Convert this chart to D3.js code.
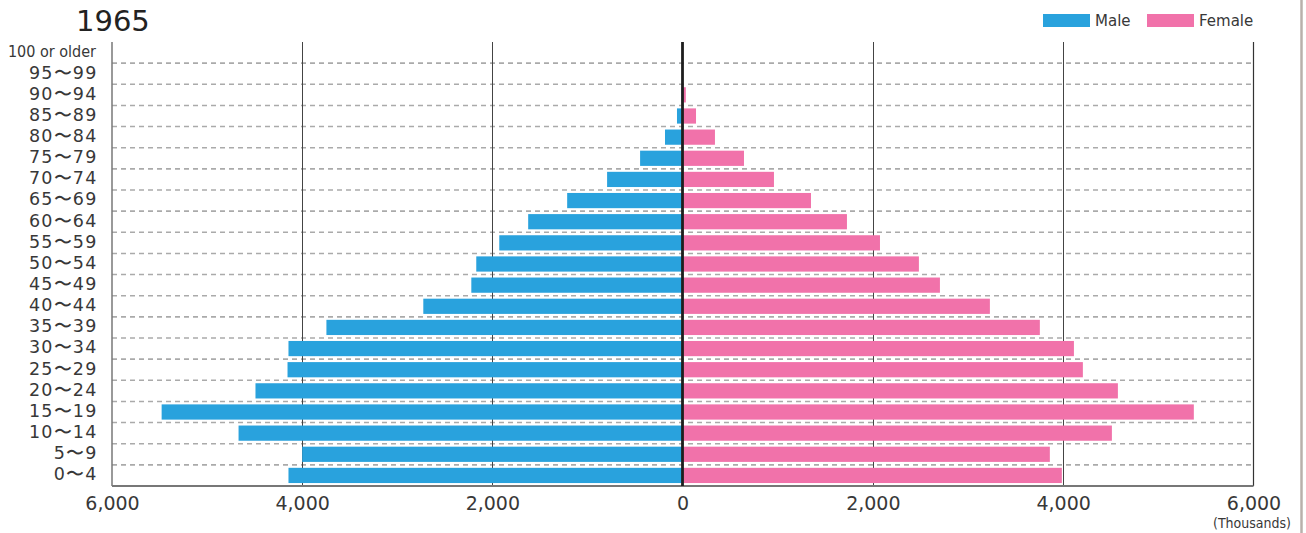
<!DOCTYPE html>
<html>
<head>
<meta charset="utf-8">
<script src="https://cdn.jsdelivr.net/npm/d3@7"></script>
<style>
  html, body { margin: 0; padding: 0; background: #fff; }
  svg { display: block; }
</style>
</head>
<body>
<svg id="chart" width="1306" height="533"></svg>
<script>
// Population by five-year age group, 1965 (thousands)
const year = "1965";
const ageGroups = ["0〜4", "5〜9", "10〜14", "15〜19", "20〜24", "25〜29", "30〜34",
  "35〜39", "40〜44", "45〜49", "50〜54", "55〜59", "60〜64", "65〜69", "70〜74",
  "75〜79", "80〜84", "85〜89", "90〜94", "95〜99", "100 or older"];
const male = [4144, 4000, 4669, 5478, 4491, 4154, 4144, 3745, 2726, 2221, 2169,
  1927, 1623, 1213, 793, 446, 184, 58, 10, 1, 0];
const female = [3986, 3860, 4512, 5373, 4575, 4207, 4113, 3755, 3230, 2705, 2484,
  2075, 1728, 1350, 961, 646, 341, 142, 35, 4, 0];
const tickValues = [0, 2000, 4000, 6000];
const seriesNames = ["Male", "Female"];
const unitLabel = "(Thousands)";

const colors = { Male: "#29a2dd", Female: "#f172aa" };
const font = "'DejaVu Sans', sans-serif";
const condensed = "'DejaVu Sans Condensed', 'DejaVu Sans', sans-serif";
const textColor = "#383838";

const svg = d3.select("#chart");
const plotLeft = 112, plotRight = 1253.5, plotTop = 42, plotBottom = 486, zero = 682.5;

const xMale = d3.scaleLinear().domain([0, 6000]).range([zero, plotLeft]);
const xFemale = d3.scaleLinear().domain([0, 6000]).range([zero, plotRight]);
const y = d3.scaleBand()
  .domain(ageGroups.slice().reverse())
  .range([plotTop, plotBottom])
  .paddingInner(0.28)
  .paddingOuter(0.14);
const step = y.step();
const rowTop = d => y(d) - y.paddingInner() * step / 2;

// horizontal dashed separators between rows
svg.append("g")
  .selectAll("line")
  .data(y.domain().slice(1))
  .join("line")
  .attr("x1", plotLeft).attr("x2", plotRight)
  .attr("y1", d => rowTop(d)).attr("y2", d => rowTop(d))
  .attr("stroke", "#aaa")
  .attr("stroke-width", 1.6)
  .attr("stroke-dasharray", "5,4");

// vertical grid lines
const gridX = [];
tickValues.slice(1, 3).forEach(v => { gridX.push(xMale(v)); gridX.push(xFemale(v)); });
svg.append("g")
  .selectAll("line")
  .data(gridX)
  .join("line")
  .attr("x1", d => Math.round(d) + 0.5).attr("x2", d => Math.round(d) + 0.5)
  .attr("y1", plotTop).attr("y2", plotBottom)
  .attr("stroke", "#444")
  .attr("stroke-width", 1);

// plot frame: left and right
svg.append("line").attr("x1", plotLeft).attr("x2", plotLeft).attr("y1", plotTop).attr("y2", plotBottom)
  .attr("stroke", "#777").attr("stroke-width", 1.5);
svg.append("line").attr("x1", plotRight).attr("x2", plotRight).attr("y1", plotTop).attr("y2", plotBottom)
  .attr("stroke", "#333").attr("stroke-width", 1.2);

// bars
const rows = ageGroups.map((g, i) => ({ g, m: male[i], f: female[i] }));
svg.append("g").selectAll("rect")
  .data(rows)
  .join("rect")
  .attr("x", d => xMale(d.m))
  .attr("y", d => y(d.g))
  .attr("width", d => zero - xMale(d.m))
  .attr("height", y.bandwidth())
  .attr("fill", colors.Male);
svg.append("g").selectAll("rect")
  .data(rows)
  .join("rect")
  .attr("x", zero)
  .attr("y", d => y(d.g))
  .attr("width", d => xFemale(d.f) - zero)
  .attr("height", y.bandwidth())
  .attr("fill", colors.Female);

// bottom axis line and centre line
svg.append("line").attr("x1", plotLeft).attr("x2", plotRight).attr("y1", plotBottom).attr("y2", plotBottom)
  .attr("stroke", "#777").attr("stroke-width", 2);
svg.append("line").attr("x1", zero).attr("x2", zero).attr("y1", plotTop).attr("y2", plotBottom)
  .attr("stroke", "#1e1e1e").attr("stroke-width", 2.8);

// x axis labels
const fmt = d3.format(",");
const maleAxis = d3.axisBottom(xMale).tickValues(tickValues.slice(1)).tickFormat(fmt).tickSize(0).tickPadding(0);
const femaleAxis = d3.axisBottom(xFemale).tickValues(tickValues).tickFormat(fmt).tickSize(0).tickPadding(0);
[maleAxis, femaleAxis].forEach(ax => {
  const g = svg.append("g").attr("transform", `translate(0,${plotBottom})`).call(ax);
  g.select(".domain").remove();
  g.selectAll("text")
    .attr("y", 24).attr("dy", null)
    .style("font-family", font).style("font-size", "19px").attr("fill", textColor);
});

// y axis labels
svg.append("g").selectAll("text")
  .data(ageGroups)
  .join("text")
  .attr("x", d => d === "100 or older" ? 96 : 97.5)
  .attr("y", d => y(d) + y.bandwidth() / 2 + 4.8)
  .attr("text-anchor", "end")
  .style("font-family", d => d === "100 or older" ? condensed : font)
  .style("font-size", d => d === "100 or older" ? "16px" : "17.5px")
  .style("letter-spacing", d => d === "100 or older" ? "0px" : "1.2px")
  .attr("fill", textColor)
  .text(d => d);

// title
svg.append("text").attr("x", 76).attr("y", 30.5)
  .style("font-family", font).style("font-size", "29px").attr("fill", "#222")
  .text(year);

// unit label
svg.append("text").attr("x", 1291).attr("y", 528)
  .attr("text-anchor", "end")
  .style("font-family", condensed).style("font-size", "14px").attr("fill", textColor)
  .text(unitLabel);

// legend
const legendX = [1043, 1147];
const legend = svg.append("g").selectAll("g")
  .data(seriesNames)
  .join("g")
  .attr("transform", (d, i) => `translate(${legendX[i]},14)`);
legend.append("rect").attr("width", 47).attr("height", 13).attr("fill", d => colors[d]);
legend.append("text").attr("x", 52).attr("y", 12)
  .style("font-family", font).style("font-size", "15px").attr("fill", textColor)
  .text(d => d);

// outer frame on the right
svg.append("line").attr("x1", 1301.5).attr("x2", 1301.5).attr("y1", 0).attr("y2", 533)
  .attr("stroke", "#b9b0ab").attr("stroke-width", 2.5);
</script>
</body>
</html>
